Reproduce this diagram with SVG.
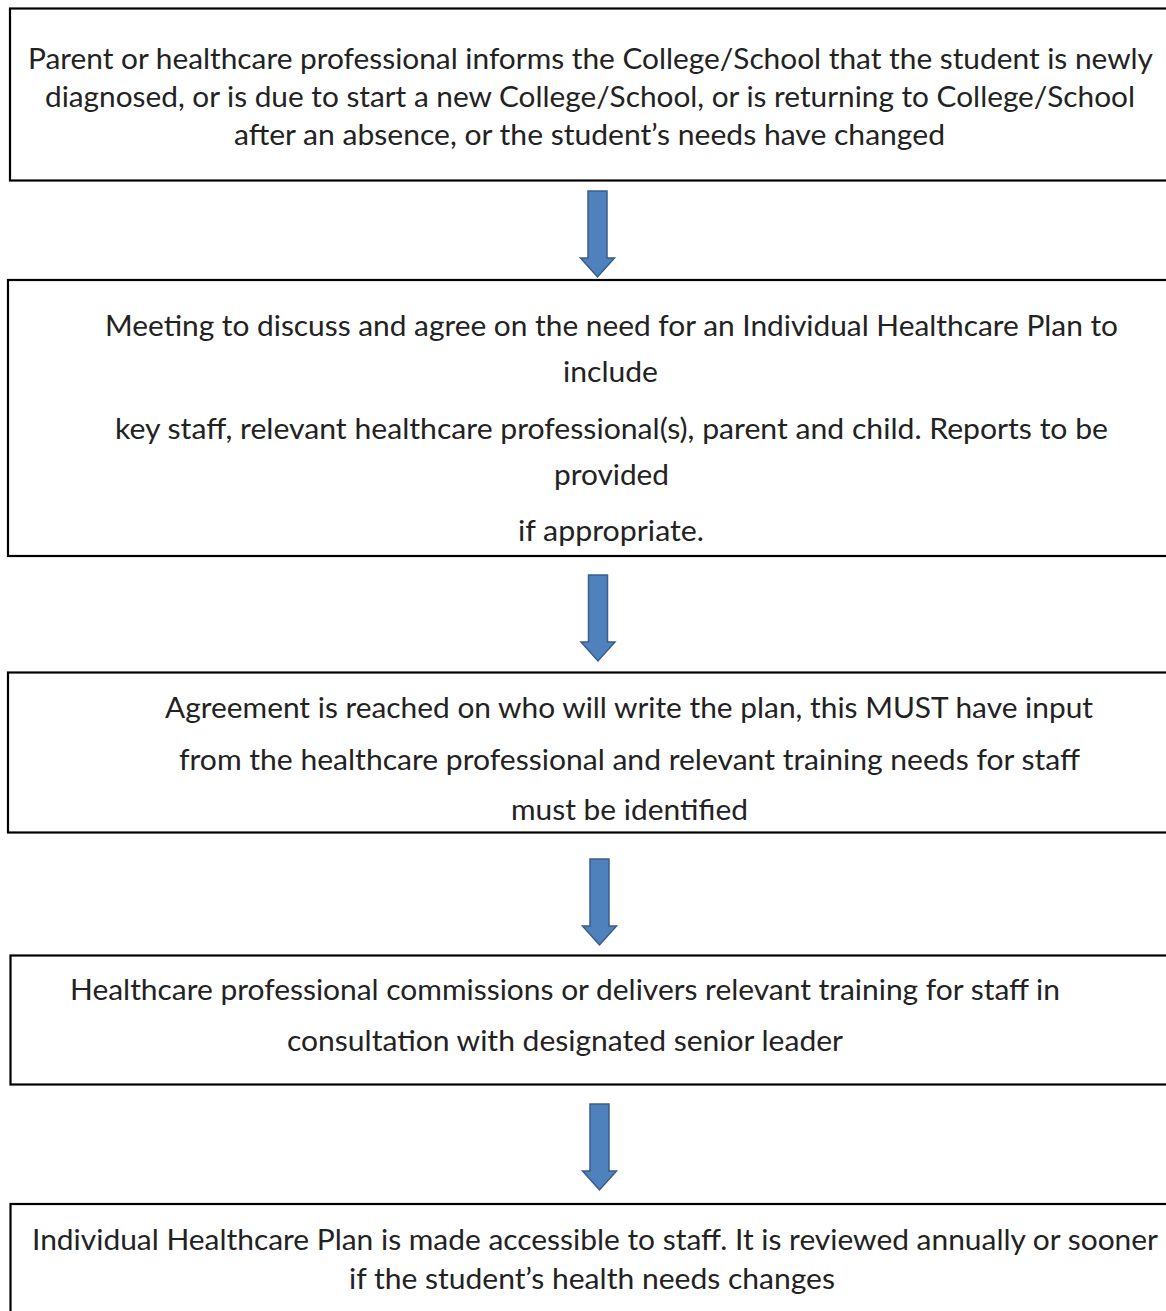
<svg xmlns="http://www.w3.org/2000/svg" width="1166" height="1311" viewBox="0 0 1166 1311">
<defs>
<style>
.box{fill:#fff;stroke:#000;stroke-width:2.2}
.t{font-family:Lato,"Open Sans","Liberation Sans",sans-serif;font-size:28px;fill:#222}
.arr{fill:#4f81bd;stroke:#385d8a;stroke-width:1.5}
</style>
<path id="arrowShape" d="M-9.5,0 H9.5 V67 H17 L0,86 L-17,67 H-9.5 Z"/>
</defs>
<rect width="1166" height="1311" fill="#fff"/>
<g id="n1">
<rect class="box" x="10" y="8.5" width="1170" height="172"/>
<text class="t" x="28" y="69" textLength="1125" lengthAdjust="spacingAndGlyphs">Parent or healthcare professional informs the College/School that the student is newly</text>
<text class="t" x="45" y="107" textLength="1090" lengthAdjust="spacingAndGlyphs">diagnosed, or is due to start a new College/School, or is returning to College/School</text>
<text class="t" x="234" y="145" textLength="711" lengthAdjust="spacingAndGlyphs">after an absence, or the student’s needs have changed</text>
</g>
<g id="n2">
<rect class="box" x="8" y="280" width="1170" height="276"/>
<text class="t" x="105" y="336" textLength="1013" lengthAdjust="spacingAndGlyphs">Meeting to discuss and agree on the need for an Individual Healthcare Plan to</text>
<text class="t" x="563" y="382" textLength="95" lengthAdjust="spacingAndGlyphs">include</text>
<text class="t" x="115" y="439" textLength="993" lengthAdjust="spacingAndGlyphs">key staff, relevant healthcare professional(s), parent and child. Reports to be</text>
<text class="t" x="554" y="485" textLength="115" lengthAdjust="spacingAndGlyphs">provided</text>
<text class="t" x="518" y="541" textLength="186" lengthAdjust="spacingAndGlyphs">if appropriate.</text>
</g>
<g id="n3">
<rect class="box" x="8" y="672.5" width="1170" height="160"/>
<text class="t" x="165" y="718" textLength="928" lengthAdjust="spacingAndGlyphs">Agreement is reached on who will write the plan, this MUST have input</text>
<text class="t" x="179" y="770" textLength="901" lengthAdjust="spacingAndGlyphs">from the healthcare professional and relevant training needs for staff</text>
<text class="t" x="511" y="820" textLength="237" lengthAdjust="spacingAndGlyphs">must be identified</text>
</g>
<g id="n4">
<rect class="box" x="10.5" y="955.5" width="1170" height="129"/>
<text class="t" x="70" y="1000" textLength="990" lengthAdjust="spacingAndGlyphs">Healthcare professional commissions or delivers relevant training for staff in</text>
<text class="t" x="287" y="1051" textLength="556" lengthAdjust="spacingAndGlyphs">consultation with designated senior leader</text>
</g>
<g id="n5">
<rect class="box" x="10.5" y="1204" width="1170" height="130"/>
<text class="t" x="32" y="1250" textLength="1126" lengthAdjust="spacingAndGlyphs">Individual Healthcare Plan is made accessible to staff. It is reviewed annually or sooner</text>
<text class="t" x="349" y="1289" textLength="486" lengthAdjust="spacingAndGlyphs">if the student’s health needs changes</text>
</g>
<g id="connectors">
<use href="#arrowShape" class="arr" transform="translate(597.5,191)"/>
<use href="#arrowShape" class="arr" transform="translate(598,575)"/>
<use href="#arrowShape" class="arr" transform="translate(599.5,859)"/>
<use href="#arrowShape" class="arr" transform="translate(599.5,1104)"/>
</g>
</svg>
